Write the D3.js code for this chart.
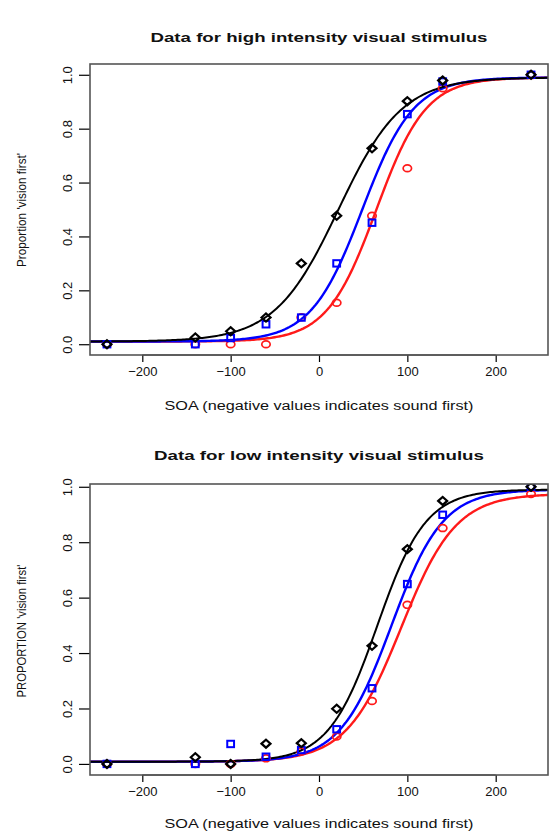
<!DOCTYPE html>
<html>
<head>
<meta charset="utf-8">
<script src="https://cdn.jsdelivr.net/npm/d3@7"></script>
<style>
  body { margin: 0; background: #fff; }
  text { font-family: "Liberation Sans", Arial, sans-serif; fill: #111; }
</style>
</head>
<body>
<svg id="chart" width="550" height="834"></svg>
<script>
// SOA values (ms) shared by both panels
const soa = [-240, -140, -100, -60, -20, 20, 60, 100, 140, 240];

// high intensity panel, proportion "vision first"
const highBlack = [0.0, 0.025, 0.048, 0.099, 0.30, 0.477, 0.727, 0.902, 0.979, 1.0];
const highBlue  = [0.0, 0.0, 0.023, 0.074, 0.099, 0.30, 0.451, 0.854, 0.975, 1.0];
const highRed   = [0.0, 0.0, 0.0, 0.0, 0.10, 0.154, 0.477, 0.653, 0.95, 1.0];

// low intensity panel
const lowBlack = [0.0, 0.024, 0.0, 0.073, 0.075, 0.199, 0.426, 0.775, 0.949, 1.0];
const lowBlue  = [0.0, 0.0, 0.072, 0.026, 0.05, 0.125, 0.273, 0.649, 0.899, 1.0];
const lowRed   = [0.0, 0.0, 0.0, 0.02, 0.045, 0.099, 0.227, 0.574, 0.851, 0.974];

// fitted psychometric curves: [midpoint, scale, lower, upper]
const highFits = { black: [22, 36, 0.01, 0.99], blue: [49, 29, 0.01, 0.99], red: [65, 28, 0.01, 0.99] };
const lowFits  = { black: [66, 27.5, 0.008, 0.99], blue: [82, 29, 0.008, 0.99], red: [93, 31, 0.008, 0.975] };

const xTicks = [-200, -100, 0, 100, 200];
const yTicks = [0, 0.2, 0.4, 0.6, 0.8, 1.0];

const svg = d3.select('#chart');

const colors = { black: '#000000', blue: '#0000ff', red: '#ff1a1a' };

function drawPanel(cfg) {
  const x = d3.scaleLinear().domain([-259.2, 259.2]).range([90, 548]);
  const y = d3.scaleLinear().domain(cfg.yDomain).range([cfg.bottom, cfg.top]);

  const g = svg.append('g');

  const clipId = 'clip-' + cfg.id;
  svg.append('clipPath').attr('id', clipId)
    .append('rect')
    .attr('x', 90).attr('y', cfg.top)
    .attr('width', 458).attr('height', cfg.bottom - cfg.top);

  // title
  g.append('text')
    .attr('x', 319).attr('y', cfg.titleY)
    .attr('text-anchor', 'middle')
    .style('font-weight', 'bold')
    .style('font-size', '13.5px')
    .attr('textLength', cfg.titleLen)
    .attr('lengthAdjust', 'spacingAndGlyphs')
    .text(cfg.title);

  // axes
  const xAxis = d3.axisBottom(x).tickValues(xTicks).tickSize(7).tickPadding(5)
    .tickFormat(d => d < 0 ? '\u2212' + Math.abs(d) : d);
  const xAxisG = g.append('g')
    .attr('transform', `translate(0,${cfg.bottom})`)
    .call(xAxis);
  xAxisG.select('.domain').remove();
  xAxisG.append('line')
    .attr('x1', x(-200)).attr('x2', x(200))
    .attr('stroke', '#000');
  xAxisG.selectAll('.tick line').attr('stroke', '#000').attr('stroke-width', 1.2);
  xAxisG.selectAll('.tick text')
    .style('font-size', '13px')
    .attr('fill', '#111');

  const yAxis = d3.axisLeft(y).tickValues(yTicks).tickSize(11).tickFormat(d3.format('.1f'));
  const yAxisG = g.append('g')
    .attr('transform', 'translate(90,0)')
    .call(yAxis);
  yAxisG.select('.domain').remove();
  yAxisG.selectAll('.tick line').attr('stroke', '#000').attr('stroke-width', 1.2);
  yAxisG.selectAll('.tick text')
    .attr('x', 0).attr('dy', 0)
    .attr('transform', 'translate(-23,0) rotate(-90)')
    .attr('text-anchor', 'middle')
    .attr('dominant-baseline', 'central')
    .style('font-size', '13px');

  // axis titles
  g.append('text')
    .attr('x', 319).attr('y', cfg.xLabelY)
    .attr('text-anchor', 'middle')
    .style('font-size', '12.5px')
    .attr('textLength', 309)
    .attr('lengthAdjust', 'spacingAndGlyphs')
    .text('SOA (negative values indicates sound first)');

  g.append('text')
    .attr('transform', `translate(22,${cfg.yLabelMid}) rotate(-90)`)
    .attr('text-anchor', 'middle')
    .attr('dominant-baseline', 'central')
    .style('font-size', '12.5px')
    .attr('textLength', cfg.yLabelLen)
    .attr('lengthAdjust', 'spacingAndGlyphs')
    .text(cfg.yLabel);

  // fitted curves
  const xs = d3.range(-260, 261, 2);
  const line = d3.line().x(d => x(d[0])).y(d => y(d[1]));
  const curveG = g.append('g').attr('clip-path', `url(#${clipId})`);
  ['red', 'blue', 'black'].forEach(key => {
    const [mu, s, lo, hi] = cfg.fits[key];
    const pts = xs.map(v => [v, lo + (hi - lo) / (1 + Math.exp(-(v - mu) / s))]);
    curveG.append('path')
      .datum(pts)
      .attr('d', line)
      .attr('fill', 'none')
      .attr('stroke', colors[key])
      .attr('stroke-width', key === 'black' ? 2 : 2.4);
  });

  // points
  const toPts = arr => arr.map((p, i) => ({ x: soa[i], p: p }));

  curveG.selectAll('.redPt')
    .data(toPts(cfg.red))
    .join('ellipse')
    .attr('class', 'redPt')
    .attr('cx', d => x(d.x)).attr('cy', d => y(d.p))
    .attr('rx', 4.2).attr('ry', 3.4)
    .attr('fill', 'none')
    .attr('stroke', colors.red)
    .attr('stroke-width', 1.7);

  curveG.selectAll('.bluePt')
    .data(toPts(cfg.blue))
    .join('rect')
    .attr('class', 'bluePt')
    .attr('x', d => x(d.x) - 3.4).attr('y', d => y(d.p) - 3.2)
    .attr('width', 6.8).attr('height', 6.4)
    .attr('fill', 'none')
    .attr('stroke', colors.blue)
    .attr('stroke-width', 2);

  curveG.selectAll('.blackPt')
    .data(toPts(cfg.black))
    .join('path')
    .attr('class', 'blackPt')
    .attr('d', d => {
      const cx = x(d.x), cy = y(d.p);
      return `M${cx - 4.5},${cy}L${cx},${cy - 4}L${cx + 4.5},${cy}L${cx},${cy + 4}Z`;
    })
    .attr('fill', 'none')
    .attr('stroke', colors.black)
    .attr('stroke-width', 2.2);

  // plot frame
  g.append('rect')
    .attr('x', 90).attr('y', cfg.top)
    .attr('width', 458).attr('height', cfg.bottom - cfg.top)
    .attr('fill', 'none')
    .attr('stroke', '#555')
    .attr('stroke-width', 1.6);
}

drawPanel({
  id: 'high', top: 64, bottom: 355, yDomain: [-0.04, 1.04],
  title: 'Data for high intensity visual stimulus', titleY: 42, titleLen: 337,
  xLabelY: 410, yLabel: "Proportion 'vision first'", yLabelMid: 210, yLabelLen: 114,
  black: highBlack, blue: highBlue, red: highRed, fits: highFits
});

drawPanel({
  id: 'low', top: 484, bottom: 775, yDomain: [-0.04, 1.01],
  title: 'Data for low intensity visual stimulus', titleY: 460, titleLen: 330,
  xLabelY: 828, yLabel: "PROPORTION 'vision first'", yLabelMid: 631, yLabelLen: 133,
  black: lowBlack, blue: lowBlue, red: lowRed, fits: lowFits
});
</script>
</body>
</html>
